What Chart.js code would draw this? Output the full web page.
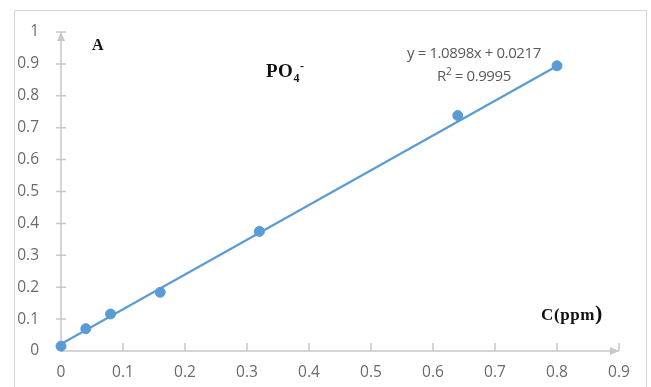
<!DOCTYPE html>
<html>
<head>
<meta charset="utf-8">
<script src="https://cdn.jsdelivr.net/npm/chart.js@4.4.0/dist/chart.umd.min.js"></script>
<style>
  body { margin: 0; background: #fff; }
  #wrap { position: relative; width: 651px; height: 387px; overflow: hidden; }
  #frame { position: absolute; left: 14px; top: 10px; width: 633px; height: 400px; border: 1.5px solid #d4d4d4; box-sizing: border-box; }
  canvas { position: absolute; left: 0; top: 0; }
  .note { position: absolute; font-family: "Liberation Serif", serif; font-weight: bold; color: #111; white-space: nowrap; }
  .eq { position: absolute; font-family: "Open Sans", "Liberation Sans", sans-serif; font-size: 15px; color: #595959; text-align: center; line-height: 19px; width: 180px; letter-spacing: -0.4px; }
</style>
</head>
<body>
<div id="wrap">
  <div id="frame"></div>
  <canvas id="calib" width="651" height="387"></canvas>
  <div class="note" style="left:92px; top:36px; font-size:16px;">A</div>
  <div class="note" style="left:266px; top:59px; font-size:19px; letter-spacing:0.5px;">PO<sub style="font-size:12px;">4</sub><sup style="font-size:12px;">-</sup></div>
  <div class="note" style="left:541px; top:300px; font-size:17px; letter-spacing:0.6px;">C(ppm<span style="font-size:22px;">)</span></div>
  <div class="eq" style="left:384px; top:43px;">y = 1.0898x + 0.0217<br>R<sup style="font-size:10px;">2</sup> = 0.9995</div>
</div>
<script>
// PO4- calibration: concentration (ppm) vs absorbance
const concentrations = [0, 0.04, 0.08, 0.16, 0.32, 0.64, 0.8];
const absorbance = [0.015, 0.070, 0.116, 0.184, 0.375, 0.738, 0.894];

// linear trend line end points (y = 1.0898x + 0.0217)
const trendX = [0, 0.8];
const trendY = [0.0217, 0.8935];

const xTickLabels = ["0", "0.1", "0.2", "0.3", "0.4", "0.5", "0.6", "0.7", "0.8", "0.9"];
const yTickLabels = ["0", "0.1", "0.2", "0.3", "0.4", "0.5", "0.6", "0.7", "0.8", "0.9", "1"];

const blue = "#5b9bd5";
const axisGray = "#c8c8c8";

const axesPlugin = {
    id: "axesPlugin",
    beforeDatasetsDraw(chart) {
        const ctx = chart.ctx;
        const x = chart.scales.x;
        const y = chart.scales.y;
        const x0 = x.getPixelForValue(0);
        const y0 = y.getPixelForValue(0);
        const xEnd = x.getPixelForValue(0.9);
        const yEnd = y.getPixelForValue(1);
        ctx.save();
        ctx.strokeStyle = axisGray;
        ctx.fillStyle = axisGray;
        ctx.lineWidth = 1.5;

        // y axis + ticks
        ctx.beginPath();
        ctx.moveTo(x0, y0);
        ctx.lineTo(x0, yEnd);
        for (let i = 1; i < yTickLabels.length; i++) {
            const py = y.getPixelForValue(i / 10);
            ctx.moveTo(x0 - 5, py);
            ctx.lineTo(x0 + 5, py);
        }
        // x axis + ticks
        ctx.moveTo(x0, y0);
        ctx.lineTo(xEnd, y0);
        for (let i = 1; i < xTickLabels.length; i++) {
            const px = x.getPixelForValue(i / 10);
            ctx.moveTo(px, y0 - 8);
            ctx.lineTo(px, y0);
        }
        ctx.stroke();

        // arrow heads
        ctx.beginPath();
        ctx.moveTo(x0, yEnd);
        ctx.lineTo(x0 - 4, yEnd + 9);
        ctx.lineTo(x0 + 4, yEnd + 9);
        ctx.closePath();
        ctx.moveTo(xEnd, y0);
        ctx.lineTo(xEnd - 9, y0 - 4);
        ctx.lineTo(xEnd - 9, y0 + 4);
        ctx.closePath();
        ctx.fill();
        ctx.restore();
    }
};

new Chart(document.getElementById("calib").getContext("2d"), {
    type: "scatter",
    data: {
        datasets: [
            {
                label: "PO4",
                data: concentrations.map((c, i) => ({ x: c, y: absorbance[i] })),
                backgroundColor: blue,
                borderColor: blue,
                pointRadius: 5,
                pointHoverRadius: 5,
                clip: false,
            },
            {
                label: "Linear",
                type: "line",
                data: trendX.map((c, i) => ({ x: c, y: trendY[i] })),
                borderColor: blue,
                borderWidth: 2.2,
                pointRadius: 0,
                fill: false,
            },
        ],
    },
    options: {
        responsive: false,
        animation: false,
        events: [],
        layout: { padding: { left: 0, top: 32, right: 32, bottom: 0 } },
        plugins: { legend: { display: false }, tooltip: { enabled: false } },
        scales: {
            x: {
                type: "linear",
                min: 0,
                max: 0.9,
                afterFit: (s) => { s.height = 36; },
                afterBuildTicks: (s) => { s.ticks = xTickLabels.map((t) => ({ value: Number(t) })); },
                grid: { display: false },
                border: { display: false },
                ticks: {
                    padding: 4,
                    color: "#6a6a6a",
                    font: { family: "Open Sans", size: 15.5 },
                    callback: (v, i) => xTickLabels[i],
                    maxRotation: 0,
                },
            },
            y: {
                type: "linear",
                min: 0,
                max: 1,
                afterFit: (s) => { s.width = 61; },
                afterBuildTicks: (s) => { s.ticks = yTickLabels.map((t) => ({ value: Number(t) })); },
                grid: { display: false },
                border: { display: false },
                ticks: {
                    padding: 14,
                    color: "#6a6a6a",
                    font: { family: "Open Sans", size: 15.5 },
                    callback: (v, i) => yTickLabels[i],
                },
            },
        },
    },
    plugins: [axesPlugin],
});
</script>
</body>
</html>
